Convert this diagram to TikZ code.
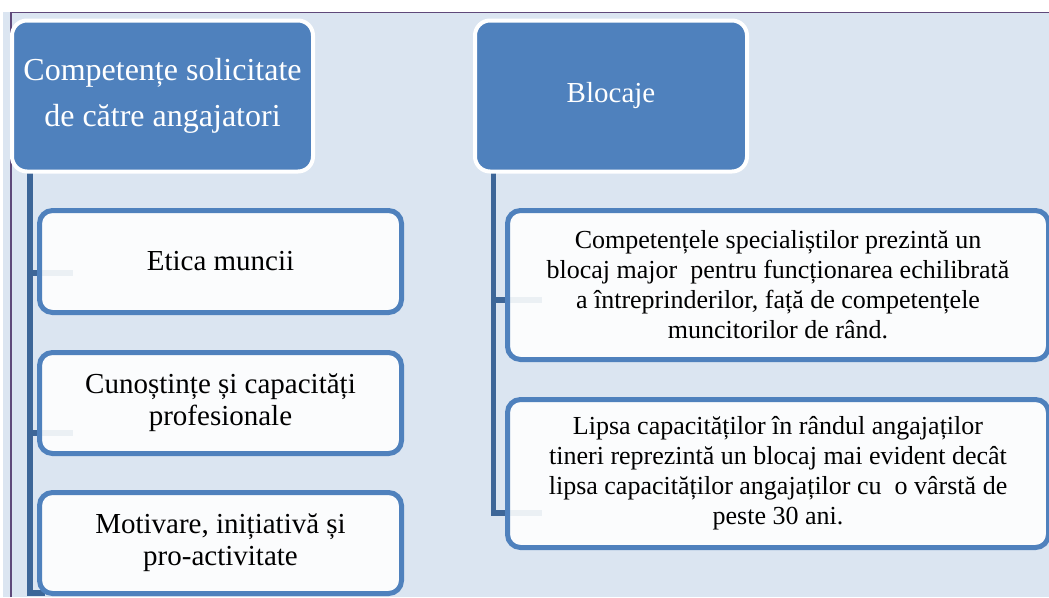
\documentclass[tikz,border=0pt]{standalone}
\usepackage{fontspec}
\setmainfont{Liberation Serif}

\definecolor{sheet}{HTML}{DBE5F1}
\definecolor{frame}{HTML}{5F497A}
\definecolor{head}{HTML}{4F81BD}
\definecolor{stem}{HTML}{3D6698}
\definecolor{paper}{HTML}{FFFFFF}

\tikzstyle{header}=[rectangle, rounded corners=15pt, fill=head, draw=white, line width=4pt, text=white, align=center]
\tikzstyle{item}=[rectangle, rounded corners=13pt, fill=paper, fill opacity=0.9, text opacity=1, draw=head, line width=5pt, align=center]
\tikzstyle{link}=[stem, line width=5.5pt]

\begin{document}
\begin{tikzpicture}[x=1pt, y=-1pt]
					% Background sheet and frame
					\useasboundingbox (0,0) rectangle (1049,597);
					\fill[sheet] (3,12) rectangle (1049,597);
					\draw[frame, line width=1.5pt] (11,597) -- (11,12.5) -- (1049,12.5);

					% Connectors (drawn first, boxes cover them)
					\coordinate (lroot) at (30,170);
					\coordinate (l1) at (73,273);
					\coordinate (l2) at (73,433);
					\coordinate (l3) at (45,593);
					\coordinate (rroot) at (493.5,172);
					\coordinate (r1) at (542,300);
					\coordinate (r2) at (542,513);
					\draw[link] (lroot) |- (l1);
					\draw[link] (lroot) |- (l2);
					\draw[link] (lroot) |- (l3);
					\draw[link] (rroot) |- (r1);
					\draw[link] (rroot) |- (r2);

					% Headers
					\node[header, minimum width=301pt, minimum height=151pt, font=\fontsize{32}{46}\selectfont] (comp) at (162.5,96)
						{Competențe solicitate\\de către angajatori};
					\node[header, minimum width=272pt, minimum height=151pt, font=\fontsize{29}{34}\selectfont] (bloc) at (611,96)
						{Blocaje};

					% Left column
					\node[item, minimum width=362pt, minimum height=102pt, font=\fontsize{29}{32}\selectfont] (etica) at (220.5,261.5)
						{Etica muncii};
					\node[item, minimum width=362pt, minimum height=101pt, font=\fontsize{29}{32}\selectfont] (cuno) at (220.5,403)
						{Cunoștințe și capacități\\profesionale};
					\node[item, minimum width=362pt, minimum height=101pt, font=\fontsize{29}{32}\selectfont] (moti) at (220.5,543)
						{Motivare, inițiativă și\\pro-activitate};

					% Right column
					\node[item, minimum width=541pt, minimum height=149pt, font=\fontsize{26}{30}\selectfont] (spec) at (778,285)
						{Competențele specialiștilor prezintă un\\blocaj major\ \ pentru funcționarea echilibrată\\a întreprinderilor, față de competențele\\muncitorilor de rând.};
					\node[item, minimum width=541pt, minimum height=148pt, font=\fontsize{26}{30}\selectfont] (lips) at (778,473.5)
						{Lipsa capacităților în rândul angajaților\\tineri reprezintă un blocaj mai evident decât\\lipsa capacităților angajaților cu\ \ o vârstă de\\peste 30 ani.};
				\end{tikzpicture}
\end{document}
